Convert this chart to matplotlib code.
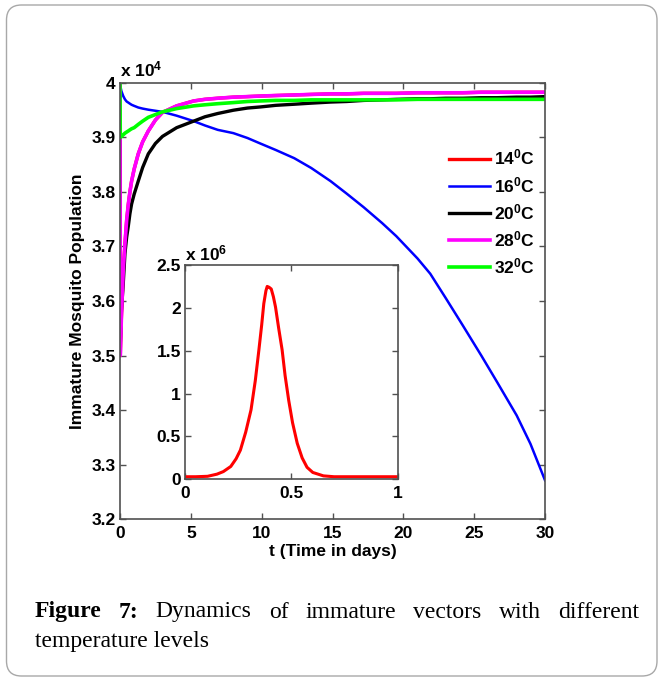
import matplotlib
matplotlib.use('Agg')
import matplotlib.pyplot as plt
from matplotlib.patches import FancyBboxPatch

plt.rcParams['font.family'] = ['Liberation Sans', 'DejaVu Sans']
plt.rcParams['font.weight'] = 'bold'
plt.rcParams['mathtext.fontset'] = 'custom'
plt.rcParams['mathtext.rm'] = 'Liberation Sans:bold'
plt.rcParams['mathtext.it'] = 'Liberation Sans:bold'
plt.rcParams['mathtext.bf'] = 'Liberation Sans:bold'

# main plot, population in units of 10^4
t = [0, 0.02, 0.1, 0.23, 0.35, 0.47, 0.59, 0.7, 0.82, 1.0, 1.29, 1.6, 2.0, 2.5,
     3.0, 4.0, 5.2, 6.0, 6.9, 8.0, 9.0, 9.9, 11.0, 12.3, 13.5, 14.86, 16.0,
     17.2, 18.5, 19.5, 21.0, 21.9, 23.0, 24.2, 25.5, 26.6, 28.0, 28.97, 30]
pop_14 = [4.0, 3.50, 3.57, 3.656, 3.705, 3.748, 3.778, 3.80, 3.82, 3.842, 3.87,
          3.892, 3.912, 3.932, 3.946, 3.958, 3.967, 3.970, 3.972, 3.974, 3.975,
          3.976, 3.977, 3.978, 3.979, 3.980, 3.980, 3.981, 3.981, 3.981, 3.982,
          3.982, 3.982, 3.982, 3.983, 3.983, 3.983, 3.983, 3.983]
pop_16 = [4.0, 3.995, 3.985, 3.976, 3.970, 3.966, 3.964, 3.962, 3.960, 3.958,
          3.955, 3.953, 3.951, 3.949, 3.947, 3.940, 3.930, 3.922, 3.914, 3.908,
          3.899, 3.889, 3.877, 3.862, 3.844, 3.820, 3.797, 3.772, 3.743, 3.719,
          3.678, 3.650, 3.605, 3.555, 3.500, 3.452, 3.390, 3.338, 3.271]
pop_20 = [4.0, 3.52, 3.582, 3.632, 3.687, 3.717, 3.738, 3.760, 3.778, 3.796,
          3.82, 3.845, 3.870, 3.889, 3.902, 3.918, 3.930, 3.938, 3.944, 3.950,
          3.954, 3.956, 3.959, 3.961, 3.963, 3.965, 3.966, 3.968, 3.969, 3.970,
          3.971, 3.971, 3.972, 3.972, 3.973, 3.973, 3.974, 3.974, 3.975]
pop_28 = pop_14
pop_32 = [4.0, 3.90, 3.902, 3.905, 3.908, 3.910, 3.912, 3.914, 3.916, 3.918,
          3.924, 3.930, 3.937, 3.942, 3.947, 3.953, 3.958, 3.960, 3.962, 3.964,
          3.966, 3.967, 3.968, 3.968, 3.969, 3.969, 3.969, 3.969, 3.969, 3.969,
          3.970, 3.970, 3.970, 3.970, 3.970, 3.970, 3.970, 3.970, 3.970]

# inset, population in units of 10^6
t_in = [0, 0.05, 0.106, 0.15, 0.18, 0.215, 0.24, 0.26, 0.285, 0.31, 0.33,
        0.347, 0.36, 0.37, 0.38, 0.386, 0.395, 0.405, 0.415, 0.425, 0.44,
        0.456, 0.47, 0.487, 0.505, 0.527, 0.55, 0.573, 0.6, 0.65, 0.7, 0.8,
        0.9, 1.0]
pop_in = [0.03, 0.03, 0.035, 0.06, 0.09, 0.15, 0.24, 0.34, 0.55, 0.81, 1.15,
          1.51, 1.80, 2.05, 2.20, 2.25, 2.24, 2.22, 2.13, 2.01, 1.76, 1.51,
          1.21, 0.92, 0.66, 0.42, 0.25, 0.14, 0.08, 0.04, 0.03, 0.03, 0.03,
          0.03]

series = [
    ('14$^{0}$C', pop_14, '#ff0000', 2.4),
    ('16$^{0}$C', pop_16, '#0000ff', 1.8),
    ('20$^{0}$C', pop_20, '#000000', 2.4),
    ('28$^{0}$C', pop_28, '#ff00ff', 2.6),
    ('32$^{0}$C', pop_32, '#00ff00', 2.6),
]

fig = plt.figure(figsize=(6.6, 6.79), dpi=100)

card = FancyBboxPatch((0.065, 0.03), 6.505, 6.71,
                      boxstyle='round,pad=0,rounding_size=0.15',
                      transform=fig.dpi_scale_trans, facecolor='white',
                      edgecolor='#a8a8a8', lw=1.0, zorder=-10)
fig.patches.append(card)

SPINE = '#505050'
FS = 12.5


def style(ax):
    for s in ax.spines.values():
        s.set_color(SPINE)
        s.set_linewidth(1.2)
    ax.tick_params(direction='in', length=4, width=1, color=SPINE,
                   top=True, right=True, labelsize=FS)
    ax.tick_params(axis='x', pad=5)
    ax.tick_params(axis='y', pad=3)
    for lab in ax.get_xticklabels() + ax.get_yticklabels():
        lab.set_fontweight('bold')


ax = fig.add_axes([0.1818, 0.2356, 0.644, 0.6422])
handles = []
for label, vals, color, lw in series:
    h, = ax.plot(t, vals, color=color, lw=lw, label=label)
    handles.append(h)
ax.set_xlim(0, 30)
ax.set_ylim(3.2, 4.0)
ax.set_xticks([0, 5, 10, 15, 20, 25, 30])
ax.set_yticks([3.2, 3.3, 3.4, 3.5, 3.6, 3.7, 3.8, 3.9, 4.0])
ax.set_yticklabels(['3.2', '3.3', '3.4', '3.5', '3.6', '3.7', '3.8', '3.9', '4'])
style(ax)
ax.set_xlabel('t (Time in days)', fontsize=FS, fontweight='bold', labelpad=2)
ax.set_ylabel('Immature Mosquito Population', fontsize=FS, fontweight='bold',
              labelpad=5)
ax.text(0.0, 1.008, 'x 10$^{4}$', transform=ax.transAxes, fontsize=FS,
        ha='left', va='bottom')
ax.legend(handles=handles, loc='upper right', bbox_to_anchor=(1.0, 0.875),
          frameon=False, fontsize=FS, handlelength=2.4, handletextpad=0.2,
          labelspacing=0.42, borderaxespad=0.2)

ax2 = fig.add_axes([0.2803, 0.2941, 0.3227, 0.3156])
ax2.plot(t_in, pop_in, color='#ff0000', lw=2.2)
ax2.set_xlim(0, 1)
ax2.set_ylim(0, 2.5)
ax2.set_xticks([0, 0.5, 1])
ax2.set_xticklabels(['0', '0.5', '1'])
ax2.set_yticks([0, 0.5, 1, 1.5, 2, 2.5])
ax2.set_yticklabels(['0', '0.5', '1', '1.5', '2', '2.5'])
style(ax2)
ax2.text(0.0, 1.008, 'x 10$^{6}$', transform=ax2.transAxes, fontsize=FS,
         ha='left', va='bottom')

# justified caption
fig.canvas.draw()
renderer = fig.canvas.get_renderer()
cap_font = dict(family=['Liberation Serif', 'DejaVu Serif'], fontsize=17)
words = [('Figure', 'bold'), ('7:', 'bold'), ('Dynamics', 'normal'),
         ('of', 'normal'), ('immature', 'normal'), ('vectors', 'normal'),
         ('with', 'normal'), ('different', 'normal')]
left_px, right_px = 35, 639
y1 = 1 - 612 / 679.0
y2 = 1 - 641 / 679.0
texts = []
widths = []
for w, weight in words:
    tx = fig.text(0, y1, w, fontweight=weight, va='center', ha='left',
                  **cap_font)
    widths.append(tx.get_window_extent(renderer).width)
    texts.append(tx)
gap = (right_px - left_px - sum(widths)) / (len(words) - 1)
x = left_px
for tx, wd in zip(texts, widths):
    tx.set_x(x / 660.0)
    x += wd + gap
fig.text(left_px / 660.0, y2, 'temperature levels', fontweight='normal',
         va='center', ha='left', **cap_font)

fig.savefig('out.png', dpi=100)
